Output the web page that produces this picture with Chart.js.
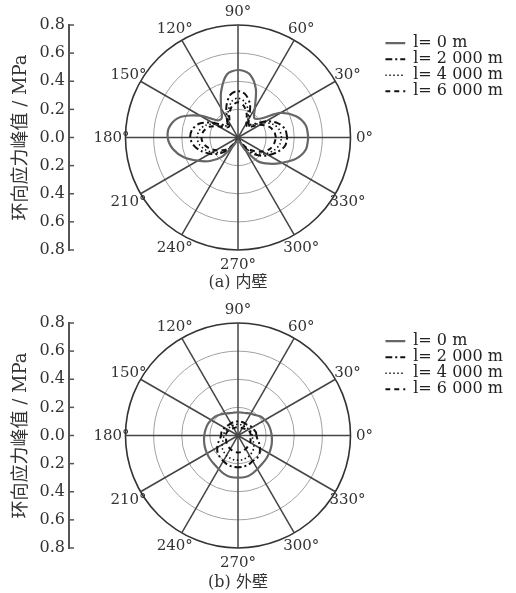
<!DOCTYPE html>
<html>
<head>
<meta charset="utf-8">
<title>环向应力峰值</title>
<script src="https://cdn.jsdelivr.net/npm/chart.js@4.4.1/dist/chart.umd.min.js"></script>
<style>
  html, body { margin: 0; padding: 0; background: #fff; }
  .plot { position: relative; width: 516px; }
  #innerWrap { height: 296px; }
  #outerWrap { height: 297px; }
</style>
</head>
<body>
<div class="plot" id="innerWrap"><canvas id="innerChart"></canvas></div>
<div class="plot" id="outerWrap"><canvas id="outerChart"></canvas></div>
<script>
// polar angle of each sample (deg), radial axis ticks and angle labels
const angles = [0, 10, 20, 30, 40, 50, 60, 70, 80, 90, 100, 110, 120, 130, 140, 150, 160, 170,
                180, 190, 200, 210, 220, 230, 240, 250, 260, 270, 280, 290, 300, 310, 320, 330, 340, 350];
const angleTicks = [0, 30, 60, 90, 120, 150, 180, 210, 240, 270, 300, 330];
const radiusTicks = [0.2, 0.4, 0.6, 0.8];
const yTickValues = [-0.8, -0.6, -0.4, -0.2, 0, 0.2, 0.4, 0.6, 0.8];
const seriesLabels = ['l= 0 m', 'l= 2 000 m', 'l= 4 000 m', 'l= 6 000 m'];

// (a) 内壁, peak hoop stress (MPa) per angle
const innerL0 = [0.50, 0.49, 0.44, 0.35, 0.21, 0.18, 0.24, 0.37, 0.46, 0.48, 0.455, 0.35,
                 0.24, 0.18, 0.19, 0.31, 0.43, 0.49, 0.50, 0.47, 0.41, 0.33, 0.26, 0.18,
                 0.07, 0.03, 0.02, 0.02, 0.02, 0.03, 0.10, 0.22, 0.29, 0.36, 0.44, 0.49];
const innerL2000 = [0.35, 0.34, 0.30, 0.23, 0.15, 0.12, 0.16, 0.25, 0.31, 0.33, 0.31, 0.24,
                    0.16, 0.12, 0.14, 0.21, 0.29, 0.33, 0.34, 0.32, 0.28, 0.23, 0.18, 0.12,
                    0.05, 0.02, 0.02, 0.02, 0.02, 0.02, 0.06, 0.14, 0.20, 0.25, 0.30, 0.34];
const innerL4000 = [0.31, 0.30, 0.27, 0.21, 0.14, 0.11, 0.14, 0.21, 0.26, 0.28, 0.26, 0.20,
                    0.14, 0.11, 0.13, 0.19, 0.25, 0.28, 0.29, 0.28, 0.25, 0.21, 0.16, 0.11,
                    0.05, 0.02, 0.02, 0.02, 0.02, 0.02, 0.05, 0.12, 0.18, 0.23, 0.27, 0.30];
const innerL6000 = [0.27, 0.26, 0.23, 0.18, 0.12, 0.10, 0.12, 0.18, 0.23, 0.25, 0.23, 0.18,
                    0.12, 0.10, 0.11, 0.16, 0.22, 0.25, 0.26, 0.25, 0.22, 0.18, 0.14, 0.10,
                    0.04, 0.02, 0.02, 0.02, 0.02, 0.02, 0.04, 0.10, 0.15, 0.20, 0.24, 0.26];

// (b) 外壁
const outerL0 = [0.24, 0.235, 0.23, 0.22, 0.21, 0.19, 0.18, 0.17, 0.165, 0.165, 0.165, 0.17,
                 0.18, 0.195, 0.21, 0.22, 0.23, 0.235, 0.24, 0.245, 0.25, 0.255, 0.26, 0.265,
                 0.275, 0.29, 0.30, 0.30, 0.30, 0.29, 0.275, 0.265, 0.26, 0.255, 0.25, 0.245];
const outerL2000 = [0.13, 0.13, 0.12, 0.115, 0.11, 0.10, 0.10, 0.10, 0.10, 0.10, 0.10, 0.10,
                    0.10, 0.10, 0.105, 0.11, 0.115, 0.12, 0.12, 0.13, 0.15, 0.17, 0.19, 0.20,
                    0.21, 0.22, 0.225, 0.225, 0.225, 0.22, 0.21, 0.21, 0.20, 0.18, 0.16, 0.14];
const outerL4000 = [0.10, 0.10, 0.095, 0.09, 0.085, 0.08, 0.08, 0.08, 0.08, 0.08, 0.08, 0.08,
                    0.08, 0.08, 0.085, 0.09, 0.095, 0.10, 0.10, 0.105, 0.115, 0.13, 0.145, 0.155,
                    0.165, 0.17, 0.175, 0.175, 0.175, 0.17, 0.165, 0.155, 0.145, 0.13, 0.115, 0.105];
const outerL6000 = [0.09, 0.09, 0.085, 0.08, 0.07, 0.065, 0.06, 0.06, 0.06, 0.06, 0.06, 0.06,
                    0.06, 0.065, 0.07, 0.075, 0.08, 0.085, 0.085, 0.085, 0.09, 0.095, 0.10, 0.105,
                    0.11, 0.115, 0.12, 0.12, 0.12, 0.115, 0.11, 0.105, 0.10, 0.10, 0.095, 0.09];

const SERIF = "'DejaVu Serif', 'Noto Sans CJK SC', serif";
const POLAR_CENTRE_X = 238;   // px, where the pole sits on the canvas

const seriesStyles = [
    { color: '#666', width: 2.2, dash: [] },
    { color: '#111', width: 2, dash: [7, 3, 2, 3] },
    { color: '#111', width: 1.6, dash: [1.5, 2.5] },
    { color: '#111', width: 2, dash: [5, 4] }
];

// polar (r, θ) -> cartesian, closed loop
function toPoints(values) {
    const pts = values.map((r, i) => {
        const t = angles[i] * Math.PI / 180;
        return { x: r * Math.cos(t), y: r * Math.sin(t) };
    });
    pts.push(pts[0]);
    return pts;
}

// ===== POLAR GRID, ANGLE LABELS, CAPTION =====
const polarGrid = {
    id: 'polarGrid',
    beforeDatasetsDraw(chart) {
        const { ctx, scales: { x, y } } = chart;
        const cx = x.getPixelForValue(0);
        const cy = y.getPixelForValue(0);
        const rMax = radiusTicks[radiusTicks.length - 1];
        ctx.save();
        radiusTicks.forEach(r => {
            const rp = cy - y.getPixelForValue(r);
            ctx.beginPath();
            ctx.arc(cx, cy, rp, 0, Math.PI * 2);
            ctx.strokeStyle = r === rMax ? '#333' : '#a0a0a0';
            ctx.lineWidth = r === rMax ? 1.6 : 1;
            ctx.stroke();
        });
        const R = cy - y.getPixelForValue(rMax);
        ctx.strokeStyle = '#444';
        ctx.lineWidth = 1.5;
        angleTicks.forEach(a => {
            const t = a * Math.PI / 180;
            ctx.beginPath();
            ctx.moveTo(cx, cy);
            ctx.lineTo(cx + R * Math.cos(t), cy - R * Math.sin(t));
            ctx.stroke();
        });
        ctx.restore();
    },
    afterDraw(chart, args, opts) {
        const { ctx, chartArea, scales: { x, y } } = chart;
        const cx = x.getPixelForValue(0);
        const cy = y.getPixelForValue(0);
        const R = cy - y.getPixelForValue(radiusTicks[radiusTicks.length - 1]);
        ctx.save();
        // inward ticks on the left axis
        ctx.strokeStyle = '#555';
        ctx.lineWidth = 1.5;
        yTickValues.forEach(v => {
            const py = y.getPixelForValue(v);
            ctx.beginPath();
            ctx.moveTo(chartArea.left, py);
            ctx.lineTo(chartArea.left + 5, py);
            ctx.stroke();
        });
        // angle labels
        ctx.fillStyle = '#333';
        ctx.font = '15px ' + SERIF;
        ctx.textAlign = 'center';
        ctx.textBaseline = 'middle';
        angleTicks.forEach(a => {
            const t = a * Math.PI / 180;
            const d = R + 14;
            ctx.fillText(a + '°', cx + d * Math.cos(t), cy - d * Math.sin(t) + 1);
        });
        // caption
        ctx.font = '16px ' + SERIF;
        ctx.fillText(opts.caption, cx, opts.captionY);
        ctx.restore();
    }
};

function makeChart(canvasId, series, caption, pad, captionY) {
    const datasets = series.map((values, i) => ({
        label: seriesLabels[i],
        data: toPoints(values),
        showLine: true,
        borderColor: seriesStyles[i].color,
        borderWidth: seriesStyles[i].width,
        borderDash: seriesStyles[i].dash,
        pointRadius: 0,
        tension: 0.3,
        fill: false
    }));

    const chart = new Chart(document.getElementById(canvasId).getContext('2d'), {
        type: 'scatter',
        data: { datasets },
        options: {
            responsive: true,
            maintainAspectRatio: false,
            animation: false,
            events: [],
            layout: { padding: { left: 11, right: 6, top: pad.top, bottom: pad.bottom } },
            scales: {
                x: { type: 'linear', display: false, min: -1.2, max: 1.0 },
                y: {
                    type: 'linear',
                    position: 'left',
                    min: -0.8,
                    max: 0.8,
                    afterBuildTicks: scale => { scale.ticks = yTickValues.map(v => ({ value: v })); },
                    ticks: {
                        callback: v => Math.abs(v).toFixed(1),
                        font: { family: SERIF, size: 16 },
                        color: '#333',
                        padding: 4
                    },
                    grid: { display: false, drawTicks: false },
                    border: { display: true, color: '#555', width: 2 },
                    title: {
                        display: true,
                        text: '环向应力峰值 / MPa',
                        font: { family: SERIF, size: 18 },
                        color: '#333',
                        padding: { top: 0, bottom: 3 }
                    }
                }
            },
            plugins: {
                legend: {
                    display: true,
                    position: 'right',
                    align: 'start',
                    title: { display: true, text: '', padding: { top: 9, bottom: 0 }, font: { size: 1 } },
                    labels: {
                        usePointStyle: true,
                        pointStyleWidth: 20,
                        font: { family: SERIF, size: 16 },
                        color: '#222',
                        padding: 0,
                        // legend samples carry the dataset's dash pattern
                        generateLabels: c => Chart.defaults.plugins.legend.labels.generateLabels(c).map((item, i) => ({
                            ...item,
                            pointStyle: 'line',
                            lineDash: seriesStyles[i].dash,
                            lineWidth: seriesStyles[i].width,
                            strokeStyle: seriesStyles[i].color
                        }))
                    }
                },
                tooltip: { enabled: false },
                polarGrid: { caption, captionY }
            }
        },
        plugins: [polarGrid]
    });

    // keep the polar plot round: x px/unit = y px/unit
    const area = chart.chartArea;
    const ppu = area.height / 1.6;
    chart.options.scales.x.min = (area.left - POLAR_CENTRE_X) / ppu;
    chart.options.scales.x.max = (area.right - POLAR_CENTRE_X) / ppu;
    chart.update('none');
    return chart;
}

makeChart('innerChart', [innerL0, innerL2000, innerL4000, innerL6000], '(a) 内壁', { top: 25, bottom: 46 }, 283);
makeChart('outerChart', [outerL0, outerL2000, outerL4000, outerL6000], '(b) 外壁', { top: 27, bottom: 45 }, 287);
</script>
</body>
</html>
